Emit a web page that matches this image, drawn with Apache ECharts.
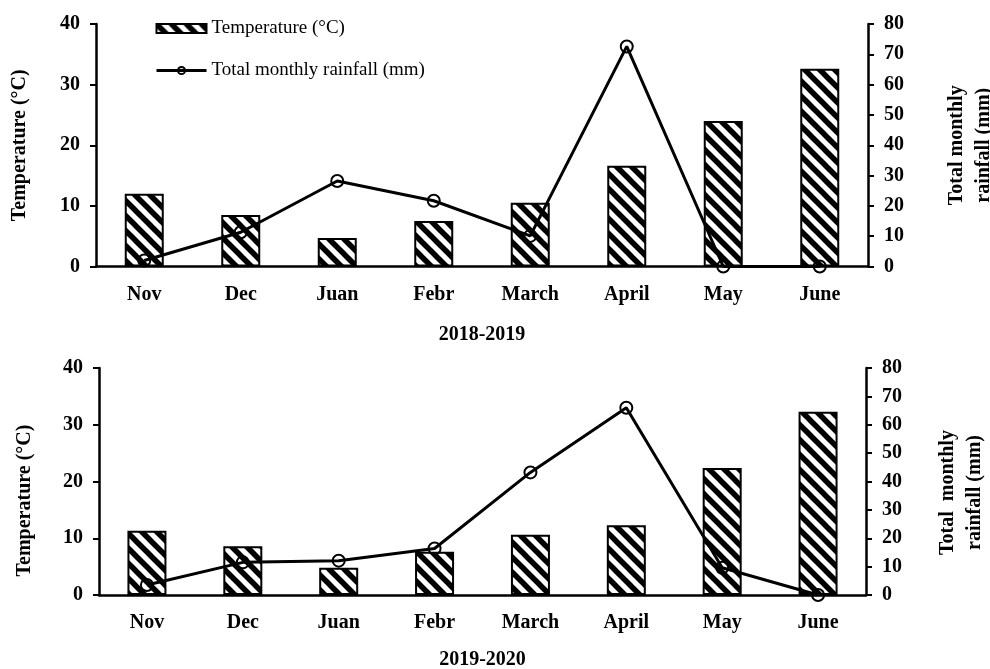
<!DOCTYPE html>
<html><head><meta charset="utf-8">
<script src="https://cdn.jsdelivr.net/npm/echarts@6/dist/echarts.min.js"></script>
<style>html,body{margin:0;padding:0;background:#fff}#c{width:990px;height:669px}</style>
</head><body><div id="c"></div>
<script>
const categories = ['Nov','Dec','Juan','Febr','March','April','May','June'];
const temp2019 = [12.0, 8.5, 4.7, 7.5, 10.5, 16.6, 24.0, 32.6];
const rain2019 = [2.0, 11.3, 28.2, 21.7, 10.1, 72.6, 0, 0];
const temp2020 = [11.3, 8.6, 4.8, 7.6, 10.6, 12.3, 22.4, 32.3];
const rain2020 = [3.5, 11.5, 12.1, 16.4, 43.2, 66.0, 9.6, 0];
const tempTicks = [0, 40, 10];
const rainTicks = [0, 80, 10];
const season1 = '2018-2019', season2 = '2019-2020';
const tempName = 'Temperature (°C)', rainName = 'Total monthly rainfall (mm)';

const FF = "'Times New Roman', 'Liberation Serif', serif";
function hatch(){
  const s = 15, c = document.createElement('canvas'); c.width = s; c.height = s;
  const g = c.getContext('2d'); g.fillStyle = '#fff'; g.fillRect(0,0,s,s);
  g.strokeStyle = '#000'; g.lineWidth = 5.5;
  for (const k of [-1,0,1]) { g.beginPath(); g.moveTo(-s, -s + k*s); g.lineTo(2*s, 2*s + k*s); g.stroke(); }
  return c;
}
const pat = {image: hatch(), repeat: 'repeat'};
const axisLineS = {show:true, lineStyle:{color:'#000', width:2.5}};
function xAx(gi, name, gap){
  return {type:'category', gridIndex:gi, data:categories, boundaryGap:true,
    axisLine:axisLineS, axisTick:{show:false},
    axisLabel:{color:'#000', fontFamily:FF, fontWeight:'bold', fontSize:20, margin:18},
    name:name, nameLocation:'middle', nameGap:gap,
    nameTextStyle:{color:'#000', fontFamily:FF, fontWeight:'bold', fontSize:20}};
}
function yAx(gi, pos, t, name, gap, pad, lh){
  return {type:'value', gridIndex:gi, position:pos, min:t[0], max:t[1], interval:t[2],
    splitLine:{show:false}, axisLine:axisLineS,
    axisTick:{show:true, length:6, lineStyle:{color:'#000', width:2}},
    axisLabel:{color:'#000', fontFamily:FF, fontWeight:'bold', fontSize:20, margin:16},
    name:name, nameLocation:'middle', nameRotate:90, nameGap:gap,
    nameTextStyle:{color:'#000', fontFamily:FF, fontWeight:'bold', fontSize:20, lineHeight:lh||24, padding:pad||0}};
}
function barS(xi, yi, d){
  return {type:'bar', name:tempName, xAxisIndex:xi, yAxisIndex:yi, data:d, barWidth:39,
    itemStyle:{color:pat, borderColor:'#000', borderWidth:2}, z:2};
}
function lineS(xi, yi, d){
  return {type:'line', name:rainName, xAxisIndex:xi, yAxisIndex:yi, data:d,
    symbol:'circle', symbolSize:12, showSymbol:true,
    lineStyle:{color:'#000', width:3},
    itemStyle:{color:'rgba(0,0,0,0)', borderColor:'#000', borderWidth:2}, z:3};
}
const chart = echarts.init(document.getElementById('c'), null, {renderer:'canvas'});
chart.setOption({
  animation:false, backgroundColor:'#fff',
  legend:{orient:'vertical', left:150, top:14, itemWidth:50, itemHeight:9, itemGap:23,
    textStyle:{color:'#000', fontFamily:FF, fontSize:19},
    lineStyle:{width:3},
    data:[{name:tempName, icon:'rect'}, {name:rainName}]},
  grid:[
    {left:96, right:122, top:24, height:242.5, outerBoundsMode:'none', containLabel:false},
    {left:99, right:124, top:368, height:227, outerBoundsMode:'none', containLabel:false}
  ],
  xAxis:[xAx(0, season1, 58), xAx(1, season2, 55)],
  yAxis:[
    yAx(0,'left',tempTicks,'Temperature (°C)',64),
    yAx(0,'right',rainTicks,'Total monthly\nrainfall (mm)',75,0,27),
    yAx(1,'left',tempTicks,'Temperature (°C)',62,[0,38,0,0]),
    yAx(1,'right',rainTicks,'Total  monthly\nrainfall (mm)',68,[0,22,0,0],27)
  ],
  series:[barS(0,0,temp2019), lineS(0,1,rain2019), barS(1,2,temp2020), lineS(1,3,rain2020)]
});
</script></body></html>
